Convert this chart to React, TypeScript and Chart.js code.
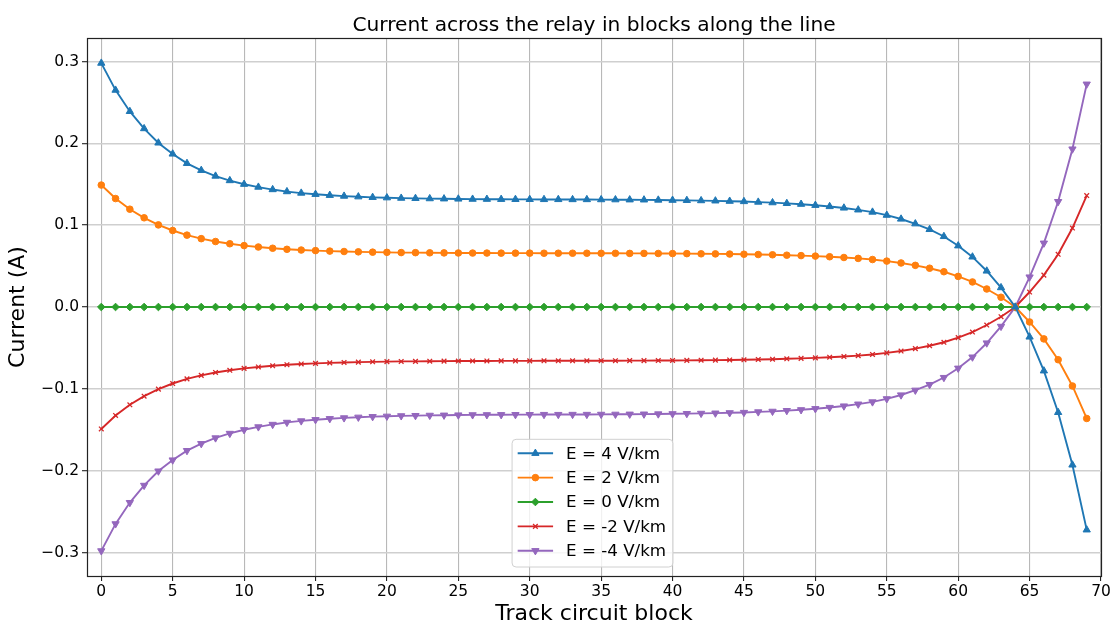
import React, { useEffect, useRef } from 'react';
import { Chart, registerables } from 'chart.js';
import { drawPoint } from 'chart.js/helpers';

Chart.register(...registerables);

const FONT = '"DejaVu Sans", "Liberation Sans", sans-serif';

const BLOCKS = [
  0, 1, 2, 3, 4, 5, 6, 7, 8, 9,
  10, 11, 12, 13, 14, 15, 16, 17, 18, 19,
  20, 21, 22, 23, 24, 25, 26, 27, 28, 29,
  30, 31, 32, 33, 34, 35, 36, 37, 38, 39,
  40, 41, 42, 43, 44, 45, 46, 47, 48, 49,
  50, 51, 52, 53, 54, 55, 56, 57, 58, 59,
  60, 61, 62, 63, 64, 65, 66, 67, 68, 69,
];

const E4 = [
  0.298, 0.265, 0.239, 0.218, 0.2005, 0.187, 0.1755, 0.167, 0.160, 0.1545,
  0.150, 0.1465, 0.1435, 0.141, 0.1392, 0.1377, 0.1365, 0.1355, 0.1347, 0.1340,
  0.1335, 0.1330, 0.1327, 0.1324, 0.1322, 0.1320, 0.1318, 0.1317, 0.1316, 0.1315,
  0.1315, 0.1314, 0.1314, 0.1313, 0.1313, 0.1312, 0.1311, 0.1310, 0.1309, 0.1307,
  0.1305, 0.1303, 0.1300, 0.1297, 0.1293, 0.1289, 0.1282, 0.1275, 0.1266, 0.1256,
  0.1243, 0.1228, 0.1210, 0.1187, 0.1160, 0.1122, 0.1075, 0.1017, 0.0948, 0.0862,
  0.0748, 0.0612, 0.0440, 0.0237, 0.0, -0.0366, -0.078, -0.1288, -0.193, -0.2723,
];

const E2 = [
  0.149, 0.1325, 0.1195, 0.109, 0.1003, 0.0935, 0.0878, 0.0835, 0.080, 0.0773,
  0.075, 0.0733, 0.0718, 0.0705, 0.0696, 0.0689, 0.0683, 0.0678, 0.0674, 0.067,
  0.0668, 0.0665, 0.0664, 0.0662, 0.0661, 0.066, 0.0659, 0.0659, 0.0658, 0.0658,
  0.0658, 0.0657, 0.0657, 0.0657, 0.0657, 0.0656, 0.0656, 0.0655, 0.0655, 0.0654,
  0.0653, 0.0652, 0.065, 0.0649, 0.0647, 0.0645, 0.0641, 0.0638, 0.0633, 0.0628,
  0.0622, 0.0614, 0.0605, 0.0594, 0.058, 0.0561, 0.0538, 0.0509, 0.0474, 0.0431,
  0.0374, 0.0306, 0.022, 0.0119, 0.0, -0.0183, -0.039, -0.0644, -0.0965, -0.1362,
];

const E0 = [
  0, 0, 0, 0, 0, 0, 0, 0, 0, 0,
  0, 0, 0, 0, 0, 0, 0, 0, 0, 0,
  0, 0, 0, 0, 0, 0, 0, 0, 0, 0,
  0, 0, 0, 0, 0, 0, 0, 0, 0, 0,
  0, 0, 0, 0, 0, 0, 0, 0, 0, 0,
  0, 0, 0, 0, 0, 0, 0, 0, 0, 0,
  0, 0, 0, 0, 0, 0, 0, 0, 0, 0,
];

const EM2 = [
  -0.149, -0.1325, -0.1195, -0.109, -0.1003, -0.0935, -0.0878, -0.0835, -0.080, -0.0773,
  -0.075, -0.0733, -0.0718, -0.0705, -0.0696, -0.0689, -0.0683, -0.0678, -0.0674, -0.067,
  -0.0668, -0.0665, -0.0664, -0.0662, -0.0661, -0.066, -0.0659, -0.0659, -0.0658, -0.0658,
  -0.0658, -0.0657, -0.0657, -0.0657, -0.0657, -0.0656, -0.0656, -0.0655, -0.0655, -0.0654,
  -0.0653, -0.0652, -0.065, -0.0649, -0.0647, -0.0645, -0.0641, -0.0638, -0.0633, -0.0628,
  -0.0622, -0.0614, -0.0605, -0.0594, -0.058, -0.0561, -0.0538, -0.0509, -0.0474, -0.0431,
  -0.0374, -0.0306, -0.022, -0.0119, 0.0, 0.0183, 0.039, 0.0644, 0.0965, 0.1362,
];

const EM4 = [
  -0.298, -0.265, -0.239, -0.218, -0.2005, -0.187, -0.1755, -0.167, -0.160, -0.1545,
  -0.150, -0.1465, -0.1435, -0.141, -0.1392, -0.1377, -0.1365, -0.1355, -0.1347, -0.1340,
  -0.1335, -0.1330, -0.1327, -0.1324, -0.1322, -0.1320, -0.1318, -0.1317, -0.1316, -0.1315,
  -0.1315, -0.1314, -0.1314, -0.1313, -0.1313, -0.1312, -0.1311, -0.1310, -0.1309, -0.1307,
  -0.1305, -0.1303, -0.1300, -0.1297, -0.1293, -0.1289, -0.1282, -0.1275, -0.1266, -0.1256,
  -0.1243, -0.1228, -0.1210, -0.1187, -0.1160, -0.1122, -0.1075, -0.1017, -0.0948, -0.0862,
  -0.0748, -0.0612, -0.0440, -0.0237, 0.0, 0.0366, 0.078, 0.1288, 0.193, 0.2723,
];

const SERIES_LABELS = ['E = 4 V/km', 'E = 2 V/km', 'E = 0 V/km', 'E = -2 V/km', 'E = -4 V/km'];
const SERIES_VALUES = [E4, E2, E0, EM2, EM4];

const X_TICKS = [0, 5, 10, 15, 20, 25, 30, 35, 40, 45, 50, 55, 60, 65, 70];
const Y_TICKS = [-0.3, -0.2, -0.1, 0.0, 0.1, 0.2, 0.3];

const TITLE = 'Current across the relay in blocks along the line';
const X_LABEL = 'Track circuit block';
const Y_LABEL = 'Current (A)';

const STYLES = [
  { color: '#1f77b4', pointStyle: 'triangle', rotation: 0, radius: 4.2, bw: 1 },
  { color: '#ff7f0e', pointStyle: 'circle', rotation: 0, radius: 3.3, bw: 1 },
  { color: '#2ca02c', pointStyle: 'rectRot', rotation: 0, radius: 3.8, bw: 1 },
  { color: '#d62728', pointStyle: 'crossRot', rotation: 0, radius: 3.3, bw: 1.3 },
  { color: '#9467bd', pointStyle: 'triangle', rotation: 180, radius: 4.2, bw: 1 },
];

const LINE_WIDTH = 1.9;

const fmtY = (v: number) => {
  const r = Math.round(v * 10) / 10;
  if (r < 0) return '\u2212' + Math.abs(r).toFixed(1);
  return r.toFixed(1);
};

const frameAndLegend = {
  id: 'frameAndLegend',
  afterDraw(chart: any) {
    const { ctx, chartArea } = chart;
    const { left, right, top } = chartArea;
    ctx.save();
    ctx.fillStyle = '#000';
    ctx.font = `20.2px ${FONT}`;
    ctx.textAlign = 'center';
    ctx.textBaseline = 'alphabetic';
    ctx.fillText(TITLE, (left + right) / 2, top - 7);
    ctx.restore();
  },
  afterDatasetsDraw(chart: any) {
    const { ctx, chartArea } = chart;
    const { left, right, top, bottom } = chartArea;
    ctx.save();
    ctx.strokeStyle = '#222';
    ctx.lineWidth = 1.2;
    ctx.strokeRect(Math.round(left) + 0.5, Math.round(top) + 0.5, Math.round(right - left), Math.round(bottom - top));

    const fontSize = 16.7;
    ctx.font = `${fontSize}px ${FONT}`;
    const rowH = 24.35;
    const lineLen = 35.4;
    const padL = 5.6;
    const gap = 13;
    const padR = 6.8;
    const textW = Math.max(...SERIES_LABELS.map((l) => ctx.measureText(l).width));
    const w = padL + lineLen + gap + textW + padR;
    const h = 14 + rowH * (SERIES_LABELS.length - 1) + 16.3;
    const cx = (left + right) / 2 - 1.5;
    const bx = cx - w / 2;
    const by = bottom - 9 - h;
    ctx.beginPath();
    (ctx as any).roundRect(bx, by, w, h, 4);
    ctx.fillStyle = 'rgba(255,255,255,0.8)';
    ctx.fill();
    ctx.strokeStyle = '#d0d0d0';
    ctx.lineWidth = 1;
    ctx.stroke();

    SERIES_LABELS.forEach((label, i) => {
      const st = STYLES[i];
      const y = by + 14 + i * rowH;
      const x0 = bx + padL;
      ctx.strokeStyle = st.color;
      ctx.lineWidth = LINE_WIDTH;
      ctx.beginPath();
      ctx.moveTo(x0, y);
      ctx.lineTo(x0 + lineLen, y);
      ctx.stroke();
      ctx.fillStyle = st.color;
      ctx.strokeStyle = st.color;
      ctx.lineWidth = st.bw;
      drawPoint(ctx, { pointStyle: st.pointStyle as any, rotation: st.rotation, radius: st.radius, borderWidth: st.bw }, x0 + lineLen / 2, y);
      ctx.fillStyle = '#000';
      ctx.textAlign = 'left';
      ctx.textBaseline = 'middle';
      ctx.font = `${fontSize}px ${FONT}`;
      ctx.fillText(label, x0 + lineLen + gap, y + 1);
    });
    ctx.restore();
  },
};

export default function App() {
  const ref = useRef<HTMLCanvasElement | null>(null);

  useEffect(() => {
    document.body.style.margin = '0';
    const canvas = ref.current;
    if (!canvas) return;

    const datasets = SERIES_VALUES.map((vals, i) => {
      const st = STYLES[i];
      return {
        label: SERIES_LABELS[i],
        data: vals.map((v, j) => ({ x: BLOCKS[j], y: v })),
        borderColor: st.color,
        backgroundColor: st.color,
        pointBackgroundColor: st.color,
        pointBorderColor: st.color,
        pointStyle: st.pointStyle,
        pointRotation: st.rotation,
        pointRadius: st.radius,
        pointBorderWidth: st.bw,
        borderWidth: LINE_WIDTH,
        tension: 0,
        fill: false,
      };
    });

    const chart = new Chart(canvas, {
      type: 'line',
      data: { datasets: datasets as any },
      options: {
        animation: false,
        responsive: false,
        maintainAspectRatio: false,
        layout: { padding: { left: 0, right: 15, top: 38, bottom: 0 } },
        plugins: {
          legend: { display: false },
          tooltip: { enabled: false },
          title: { display: false },
        },
        scales: {
          x: {
            type: 'linear',
            min: -1,
            max: 70,
            afterBuildTicks: (s: any) => {
              s.ticks = X_TICKS.map((v) => ({ value: v }));
            },
            afterFit: (s: any) => {
              s.height = 52;
            },
            ticks: {
              color: '#000',
              font: { family: FONT, size: 15.5 },
              padding: 2,
              maxRotation: 0,
              autoSkip: false,
              callback: (v: any) => String(Math.round(Number(v))),
            },
            grid: {
              color: '#b8b8b8',
              lineWidth: 1.1,
              tickLength: 5,
              tickColor: '#222',
              tickWidth: 1.1,
            },
            border: { display: false },
            title: {
              display: true,
              text: X_LABEL,
              color: '#000',
              font: { family: FONT, size: 22 },
              padding: { top: 0, bottom: 1 },
            },
          },
          y: {
            type: 'linear',
            min: -0.3287,
            max: 0.3287,
            afterBuildTicks: (s: any) => {
              s.ticks = Y_TICKS.map((v) => ({ value: v }));
            },
            afterFit: (s: any) => {
              s.width = 87;
            },
            ticks: {
              color: '#000',
              font: { family: FONT, size: 15.5 },
              padding: 3,
              callback: (v: any) => fmtY(Number(v)),
            },
            grid: {
              color: '#cfcfcf',
              lineWidth: 1.4,
              tickLength: 5,
              tickColor: '#222',
              tickWidth: 1.1,
            },
            border: { display: false },
            title: {
              display: true,
              text: Y_LABEL,
              color: '#000',
              font: { family: FONT, size: 22 },
              padding: { top: 5, bottom: 0 },
            },
          },
        },
      },
      plugins: [frameAndLegend],
    });

    return () => {
      chart.destroy();
    };
  }, []);

  return (
    <div style={{ width: 1116, height: 628 }}>
      <canvas ref={ref} width={1116} height={628} style={{ display: 'block', width: 1116, height: 628 }} />
    </div>
  );
}
